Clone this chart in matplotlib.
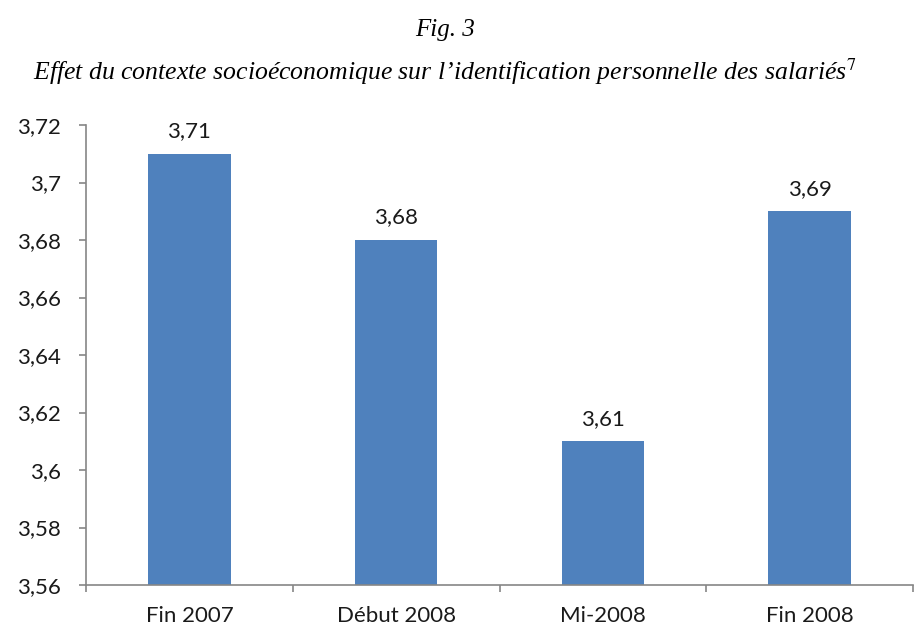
import numpy as np
import matplotlib.pyplot as plt
from matplotlib.ticker import FixedLocator

plt.rcParams['mathtext.fontset'] = 'stix'

# donnees
periodes = ["Fin 2007", "Début 2008", "Mi-2008", "Fin 2008"]
scores = [3.71, 3.68, 3.61, 3.69]
etiquettes = ["3,71", "3,68", "3,61", "3,69"]
yticks = [3.56, 3.58, 3.60, 3.62, 3.64, 3.66, 3.68, 3.70, 3.72]
ytick_labels = ["3,56", "3,58", "3,6", "3,62", "3,64", "3,66", "3,68", "3,7", "3,72"]

W, H = 914, 639
fig = plt.figure(figsize=(W / 100, H / 100), dpi=100)
ax = fig.add_axes([86 / W, 1 - 585 / H, 827 / W, 460 / H])

x = np.arange(len(periodes))
ax.bar(x, scores, width=0.4, color="#4F81BD")
ax.set_ylim(3.56, 3.72)
ax.set_xlim(-0.5, 3.5)

for xi, v, lab in zip(x, scores, etiquettes):
    ax.annotate(lab, (xi, v), xytext=(0, 9), textcoords="offset points",
                ha="center", va="bottom", fontsize=16, family="Lato", color="#1a1a1a")

ax.set_yticks(yticks)
ax.set_yticklabels(ytick_labels, family="Lato", fontsize=16, color="#1a1a1a")
ax.set_xticks(x)
ax.set_xticklabels(periodes, family="Lato", fontsize=16, color="#1a1a1a")
ax.xaxis.set_minor_locator(FixedLocator(np.arange(-0.5, 4.0, 1.0)))
ax.tick_params(axis="x", which="major", length=0, pad=15)
ax.tick_params(axis="x", which="minor", length=5, color="#868686", width=1.2, direction="out")
ax.tick_params(axis="y", length=5, color="#868686", width=1.2, direction="out", pad=13)

for s in ["top", "right"]:
    ax.spines[s].set_visible(False)
for s in ["left", "bottom"]:
    ax.spines[s].set_color("#868686")
    ax.spines[s].set_linewidth(1.2)

fig.text(445 / W, 1 - 30 / H, "Fig. 3", ha="center", va="center",
         family="Liberation Serif", style="italic", fontsize=18)
fig.text(445 / W, 1 - 72 / H,
         "Effet du contexte socioéconomique sur l’identification personnelle des salariés$^{\\mathit{7}}$",
         ha="center", va="center", family="Liberation Serif", style="italic", fontsize=18.5)

plt.savefig("out.png", dpi=100)
